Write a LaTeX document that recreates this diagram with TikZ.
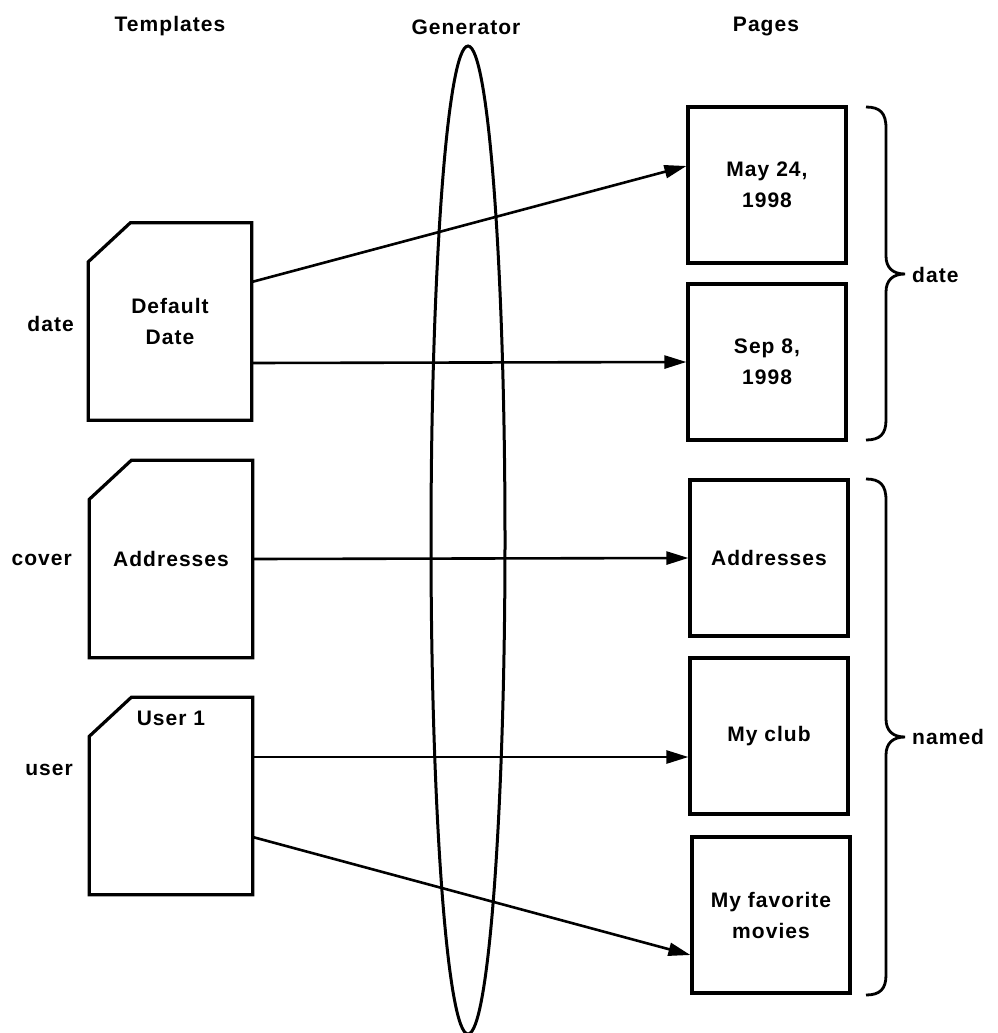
\documentclass[tikz,border=0pt]{standalone}
\usepackage{fontspec}
\setmainfont{Liberation Sans}[LetterSpace=5]
\usetikzlibrary{arrows.meta,calc,shapes.geometric}
\begin{document}
\begin{tikzpicture}[x=1pt,y=-1pt,
  txt/.style={font=\fontsize{21}{31}\selectfont\bfseries, inner sep=0pt, align=center},
  pagebox/.style={draw, line width=3.2pt, minimum width=158pt, minimum height=156pt, inner sep=0pt, align=center, font=\fontsize{21}{31}\selectfont\bfseries},
  tmpl/.style={minimum width=163pt, minimum height=197pt, inner sep=0pt, align=center, font=\fontsize{21}{31}\selectfont\bfseries},
  shell/.style={line width=3.2pt, line join=miter},
  conn/.style={line width=2.6pt, -{Triangle[length=22pt,width=13pt]}},
  bracepath/.style={line width=2.8pt},
]
\useasboundingbox (0,0) rectangle (998,1033);

% headers
\node[txt] (hT) at (170,26) {Templates};
\node[txt] (hG) at (466,27) {Generator};
\node[txt] (hP) at (766,27) {Pages};

% generator ellipse
\node[draw, ellipse, line width=3pt, minimum width=74pt, minimum height=988pt, inner sep=0pt] (gen) at (468,540) {};

% templates
\node[tmpl] (t1) at (170,321.5) {Default\\Date};
\node[tmpl] (t2) at (171,559) {Addresses};
\node[tmpl] (t3) at (171,796) {};
\node[txt] (t3txt) at (171,718) {User 1};
\foreach \t in {t1,t2,t3}{
  \draw[shell] ($(\t.north west)+(0,39)$) -- ($(\t.north west)+(42,0)$) -- (\t.north east) -- (\t.south east) -- (\t.south west) -- cycle;
}

% template labels
\node[txt, anchor=east] (l1) at (74,324) {date};
\node[txt, anchor=east] (l2) at (72,560) {cover};
\node[txt, anchor=east] (l3) at (73,770) {user};

% pages
\node[pagebox] (p1) at (767,185) {May 24,\\1998};
\node[pagebox] (p2) at (767,362) {Sep 8,\\1998};
\node[pagebox] (p3) at (769,558) {Addresses};
\node[pagebox] (p4) at (769,736) {My club};
\node[pagebox] (p5) at (771,915) {My favorite\\movies};

% connectors
\draw[conn] ([yshift=39.5pt]t1.east) -- ([yshift=19pt]p1.west);
\draw[conn] ([yshift=-41.5pt]t1.east) -- (p2.west);
\draw[conn] (t2.east) -- (p3.west);
\draw[conn] ([yshift=39pt]t3.east) -- ([yshift=-21pt]p4.west);
\draw[conn] ([yshift=-41pt]t3.east) -- ([yshift=-40pt]p5.west);

% braces
\coordinate (b1top) at (866,107);
\coordinate (b1tip) at (905,274);
\coordinate (b1bot) at (866,440);
\draw[bracepath] (b1top) .. controls (880,107) and (886,113) .. (886,128) -- (886,256)
  .. controls (886,268) and (893,274) .. (b1tip)
  .. controls (893,274) and (886,280) .. (886,292) -- (886,420)
  .. controls (886,434) and (880,440) .. (b1bot);
\node[txt, anchor=west] (bl1) at (912,275) {date};

\coordinate (b2top) at (866,479);
\coordinate (b2tip) at (905,737);
\coordinate (b2bot) at (866,995);
\draw[bracepath] (b2top) .. controls (880,479) and (886,485) .. (886,500) -- (886,719)
  .. controls (886,731) and (893,737) .. (b2tip)
  .. controls (893,737) and (886,743) .. (886,755) -- (886,975)
  .. controls (886,989) and (880,995) .. (b2bot);
\node[txt, anchor=west] (bl2) at (912,737) {named};
\end{tikzpicture}
\end{document}
